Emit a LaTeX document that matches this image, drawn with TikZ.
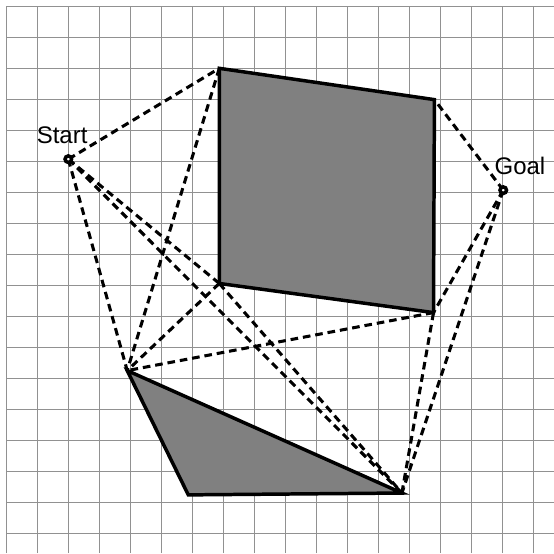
\documentclass[tikz,border=0pt]{standalone}
\usepackage{fontspec}
\setsansfont{Liberation Sans}
\usepackage{tikz}
\usetikzlibrary{positioning}
\definecolor{gridGray}{RGB}{145,145,145}
\definecolor{obstGray}{RGB}{128,128,128}

\begin{document}
\begin{tikzpicture}[
gridline/.style={draw=gridGray, line width=0.8pt},
obstacle/.style={draw=black, fill=obstGray, line width=3.2pt},
visline/.style={draw=black, line width=2.8pt, dash pattern=on 7pt off 4.5pt},
endpoint/.style={circle, draw=black, fill=white, line width=3.2pt,
inner sep=0pt, minimum size=6pt},
caption/.style={anchor=base, font=\sffamily\fontsize{22}{26}\selectfont}]

\useasboundingbox (-0.194,-17.645) rectangle (17.677,0.194);
\draw[gridline] (0,0) grid (17.677,-17.645);

\coordinate (tl)    at (6.88,-2.01);
\coordinate (tr)    at (13.82,-3.02);
\coordinate (br)    at (13.79,-9.89);
\coordinate (bl)    at (6.88,-8.95);
\coordinate (ttop)  at (3.91,-11.76);
\coordinate (tleft) at (5.88,-15.77);
\coordinate (tright) at (12.77,-15.71);

\draw[obstacle] (tl) -- (tr) -- (br) -- (bl) -- cycle;
\draw[obstacle] (ttop) -- (tright) -- (tleft) -- cycle;

\coordinate (s) at (2.01,-4.94);
\coordinate (g) at (16.04,-5.94);

\draw[visline] (s) -- (tl);
\draw[visline] (s) -- (ttop);
\draw[visline] (s) -- (bl);
\draw[visline] (s) -- (tright);
\draw[visline] (g) -- (tr);
\draw[visline] (g) -- (br);
\draw[visline] (g) -- (tright);
\draw[visline] (tl) -- (ttop);
\draw[visline] (bl) -- (ttop);
\draw[visline] (bl) -- (tright);
\draw[visline] (br) -- (ttop);
\draw[visline] (br) -- (tright);

\node[endpoint] (start) at (s) {};
\node[endpoint] (goal)  at (g) {};
\node[caption] (startlabel) at (1.81,-4.45) {Start};
\node[caption] (goallabel)  at (16.58,-5.42) {Goal};
\end{tikzpicture}
\end{document}
